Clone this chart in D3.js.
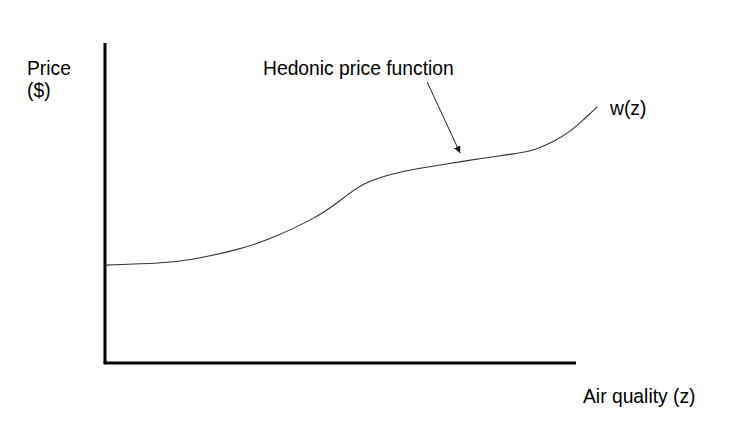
<!DOCTYPE html>
<html><head><meta charset="utf-8">
<script src="https://cdn.jsdelivr.net/npm/d3@7"></script>
<style>html,body{margin:0;padding:0;background:#fff}svg{display:block}</style>
</head><body>
<svg id="c" width="743" height="423"></svg>
<script>
// Air quality (z) values and hedonic price w(z) (arbitrary units)
const airQuality = [0, 12.3, 18.0, 28.7, 35.7, 44.2, 47.8, 51.4, 54.8, 58.4, 62.0, 65.4, 71.1, 81.1, 88.1, 91.7, 95.1, 98.7, 101.5, 104.5];
const price      = [30.6, 31.2, 32.1, 35.5, 39.0, 45.0, 48.4, 52.5, 56.0, 58.0, 59.4, 60.5, 61.9, 64.2, 65.6, 66.8, 69.1, 72.2, 75.9, 80.0];
const yAxisLabel = ["Price", "($)"];
const xAxisLabel = "Air quality (z)";
const curveLabel = "w(z)";
const annotation = "Hedonic price function";
const arrowFrom = [68.4, 87.8];
const arrowTo = [75.4, 65.6];

const svg = d3.select("#c");
const x = d3.scaleLinear().domain([0, 100]).range([105, 576]);
const y = d3.scaleLinear().domain([0, 100]).range([363, 43]);
const font = "'Liberation Sans', Arial, Helvetica, sans-serif";

svg.append("defs").append("marker")
  .attr("id", "ah").attr("viewBox", "0 0 10 10").attr("refX", 10).attr("refY", 5)
  .attr("markerWidth", 7).attr("markerHeight", 7).attr("markerUnits", "userSpaceOnUse")
  .attr("orient", "auto")
  .append("path").attr("d", "M0,0 L10,5 L0,10 Z").attr("fill", "#111");

// axes
svg.append("line").attr("x1", x(0)).attr("x2", x(0)).attr("y1", y(100)).attr("y2", y(0))
  .attr("stroke", "#000").attr("stroke-width", 3);
svg.append("line").attr("x1", x(0) - 1.5).attr("x2", x(100)).attr("y1", y(0)).attr("y2", y(0))
  .attr("stroke", "#000").attr("stroke-width", 3);

// curve
const pts = airQuality.map((v, i) => [v, price[i]]);
svg.append("path").datum(pts)
  .attr("d", d3.line().x(d => x(d[0])).y(d => y(d[1])).curve(d3.curveBasis))
  .attr("fill", "none").attr("stroke", "#333").attr("stroke-width", 1.1);

// arrow
svg.append("line").attr("x1", x(arrowFrom[0])).attr("y1", y(arrowFrom[1]))
  .attr("x2", x(arrowTo[0])).attr("y2", y(arrowTo[1]))
  .attr("stroke", "#222").attr("stroke-width", 1).attr("marker-end", "url(#ah)");

// text
const t = (s, px, py) => svg.append("text").attr("x", px).attr("y", py)
  .attr("font-family", font).attr("font-size", 19.3).attr("fill", "#000").text(s);
t(yAxisLabel[0], 27, 75);
t(yAxisLabel[1], 27, 97);
t(annotation, 263, 75);
t(curveLabel, 610, 115);
t(xAxisLabel, 583, 403);
</script>
</body></html>
